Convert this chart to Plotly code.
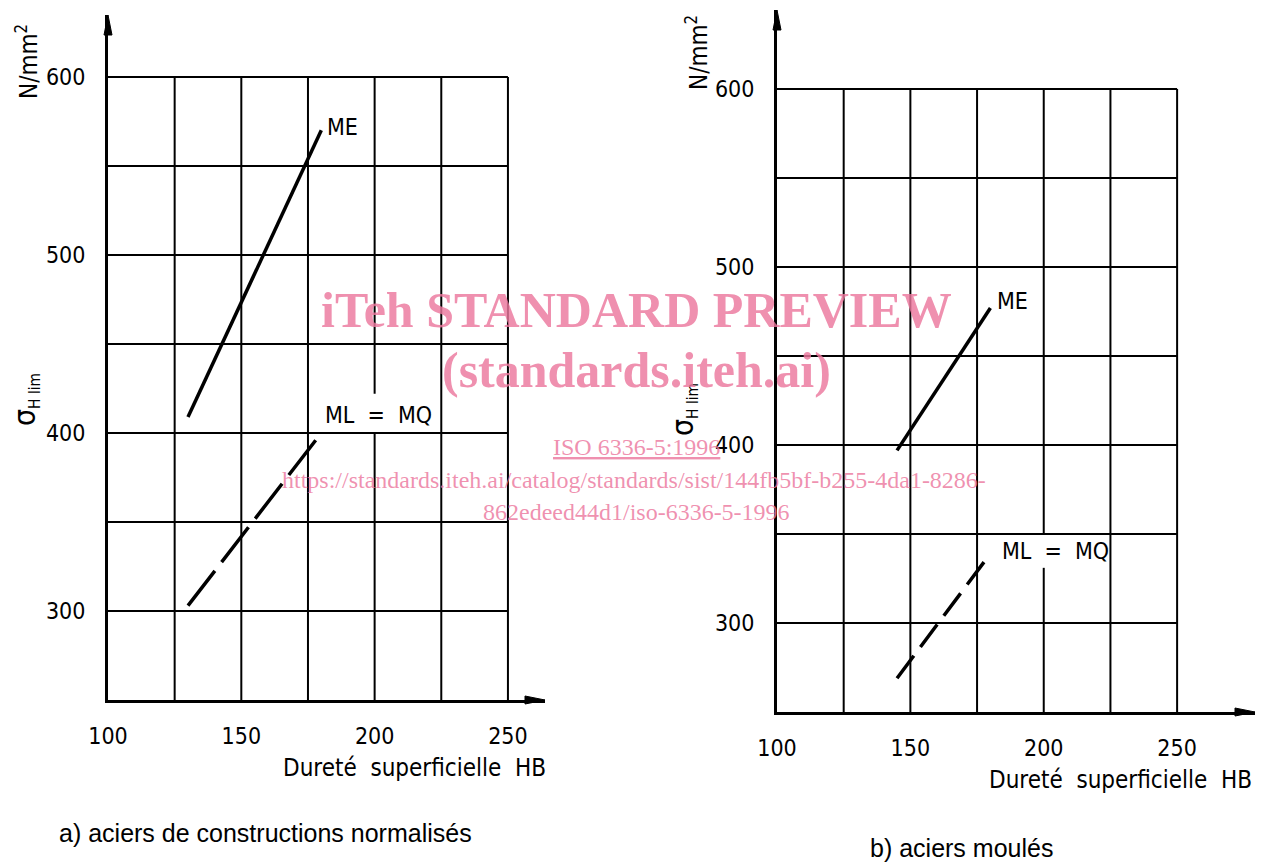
import plotly.graph_objects as go

# ---------------- data ----------------
hb_a = [130, 180]
me_a = [409, 570]
mlmq_a = [303, 400]

hb_b = [145, 180]
me_b = [397, 477]
mlmq_b = [269, 339]

x_ticks = [100, 150, 200, 250]
y_ticks = [300, 400, 500, 600]
x_grid = [125, 150, 175, 200, 225, 250]
y_grid = [300, 350, 400, 450, 500, 550, 600]

W, H = 1263, 862
OFF = 8  # page body margin in the browser
TECH = "DejaVu Sans Condensed, Liberation Sans Narrow, DejaVu Sans, sans-serif"
PINK = "rgba(236,120,158,0.82)"

fig = go.Figure()

panels = [
    dict(xa="x", ya="y", dx=(108, 545), dy=(15, 700), xmax=263.9, ymax=634.8,
         gap=(400, 422), hb=hb_a, me=me_a, ml=mlmq_a, dash="44px,11px",
         me_lab=(181.5, 572), ml_lab=(180.6, 410)),
    dict(xa="x2", ya="y2", dx=(777, 1255), dy=(10, 712), xmax=279.2, ymax=644.4,
         gap=(331, 350), hb=hb_b, me=me_b, ml=mlmq_b, dash="28px,11px",
         me_lab=(181.7, 481), ml_lab=(183.6, 340.5)),
]


def pap(xp, yp):
    return (xp - OFF) / W, 1 - (yp - OFF) / H


shapes = []
annotations = []
for i, p in enumerate(panels):
    xa, ya = p["xa"], p["ya"]
    fig.add_trace(go.Scatter(x=p["hb"], y=p["me"], mode="lines", xaxis=xa, yaxis=ya,
                             line=dict(color="black", width=3.5), showlegend=False,
                             hoverinfo="skip"))
    fig.add_trace(go.Scatter(x=p["hb"], y=p["ml"], mode="lines", xaxis=xa, yaxis=ya,
                             line=dict(color="black", width=3.5, dash=p["dash"]),
                             showlegend=False, hoverinfo="skip"))
    for gx in x_grid:
        if gx == 200:
            for y0, y1 in [(250, p["gap"][0]), (p["gap"][1], 600)]:
                shapes.append(dict(type="line", xref=xa, yref=ya, x0=gx, x1=gx, y0=y0, y1=y1,
                                   line=dict(color="black", width=2), layer="below"))
        else:
            shapes.append(dict(type="line", xref=xa, yref=ya, x0=gx, x1=gx, y0=250, y1=600,
                               line=dict(color="black", width=2), layer="below"))
    for gy in y_grid:
        shapes.append(dict(type="line", xref=xa, yref=ya, x0=100, x1=250, y0=gy, y1=gy,
                           line=dict(color="black", width=2), layer="below"))
    # arrowheads (paper coordinates so they are not clipped by the plot area)
    L, hw = 20, 4
    left, right = p["dx"]
    top, bottom = p["dy"]
    tx, ty = pap(right, bottom)
    bx1, by1 = pap(right - L, bottom - hw)
    bx2, by2 = pap(right - L, bottom + hw)
    shapes.append(dict(type="path", xref="paper", yref="paper",
                       path=f"M {tx} {ty} L {bx1} {by1} L {bx2} {by2} Z",
                       fillcolor="black", line=dict(color="black", width=1)))
    tx, ty = pap(left, top)
    bx1, by1 = pap(left - hw, top + L)
    bx2, by2 = pap(left + hw, top + L)
    shapes.append(dict(type="path", xref="paper", yref="paper",
                       path=f"M {tx} {ty} L {bx1} {by1} L {bx2} {by2} Z",
                       fillcolor="black", line=dict(color="black", width=1)))
    annotations.append(dict(x=p["me_lab"][0], y=p["me_lab"][1], xref=xa, yref=ya, text="ME",
                            showarrow=False, xanchor="left", yanchor="middle",
                            font=dict(family=TECH, size=23, color="black")))
    annotations.append(dict(x=p["ml_lab"][0], y=p["ml_lab"][1], xref=xa, yref=ya,
                            text="ML  =  MQ", showarrow=False, xanchor="left", yanchor="middle",
                            font=dict(family=TECH, size=23, color="black")))

axis_common = dict(showgrid=False, zeroline=False, showline=True, linecolor="black",
                   linewidth=3, ticks="", automargin=False,
                   tickfont=dict(family=TECH, size=23, color="black"))


def dom_x(a, b):
    return [(a - OFF) / W, (b - OFF) / W]


def dom_y(top, bottom):
    return [1 - (bottom - OFF) / H, 1 - (top - OFF) / H]


p0, p1 = panels
fig.update_layout(
    xaxis=dict(domain=dom_x(*p0["dx"]), range=[100, p0["xmax"]], tickvals=x_ticks,
               anchor="y", ticklabelstandoff=13, **axis_common),
    yaxis=dict(domain=dom_y(*p0["dy"]), range=[250, p0["ymax"]], tickvals=y_ticks,
               anchor="x", ticklabelstandoff=15, **axis_common),
    xaxis2=dict(domain=dom_x(*p1["dx"]), range=[100, p1["xmax"]], tickvals=x_ticks,
                anchor="y2", ticklabelstandoff=13, **axis_common),
    yaxis2=dict(domain=dom_y(*p1["dy"]), range=[250, p1["ymax"]], tickvals=y_ticks,
                anchor="x2", ticklabelstandoff=15, **axis_common),
)


def add_text(text, xp, yp, font, angle=0, xanchor="center", yanchor="middle"):
    x, y = pap(xp, yp)
    annotations.append(dict(x=x, y=y, xref="paper", yref="paper", text=text, showarrow=False,
                            xanchor=xanchor, yanchor=yanchor, textangle=angle, font=font))


tfont = dict(family=TECH, size=24, color="black")
sfont = dict(family=TECH, size=22, color="black")
add_text("Dureté  superficielle  HB", 414, 768, tfont)
add_text("Dureté  superficielle  HB", 1120, 780, tfont)
add_text("N/mm<sup>2</sup>", 27, 62, tfont, angle=-90)
add_text("N/mm<sup>2</sup>", 697, 53, tfont, angle=-90)
sigma = "<span style='font-size:30px'>σ</span><sub>H lim</sub>"
add_text(sigma, 25, 400, sfont, angle=-90)
add_text(sigma, 683, 410, sfont, angle=-90)

cfont = dict(family="Liberation Sans, Arial, sans-serif", size=25, color="black")
add_text("a) aciers de constructions normalisés", 57, 833, cfont, xanchor="left")
add_text("b) aciers moulés", 868, 848, cfont, xanchor="left")

wb = dict(family="Liberation Serif, Times New Roman, serif", size=50, color=PINK)
wr = dict(family="Liberation Serif, Times New Roman, serif", size=24, color=PINK)
add_text("<b>iTeh STANDARD PREVIEW</b>", 636, 310, wb)
add_text("<b>(standards.iteh.ai)</b>", 636, 370, wb)
add_text("<u>ISO 6336-5:1996</u>", 636, 447, wr)
add_text("https://standards.iteh.ai/catalog/standards/sist/144fb5bf-b255-4da1-8286-", 634, 480, wr)
add_text("862edeed44d1/iso-6336-5-1996", 636, 512, wr)

fig.update_layout(
    width=W, height=H, margin=dict(l=0, r=0, t=0, b=0),
    paper_bgcolor="white", plot_bgcolor="white",
    shapes=shapes, annotations=annotations, showlegend=False,
)

fig.write_html("out.html")
